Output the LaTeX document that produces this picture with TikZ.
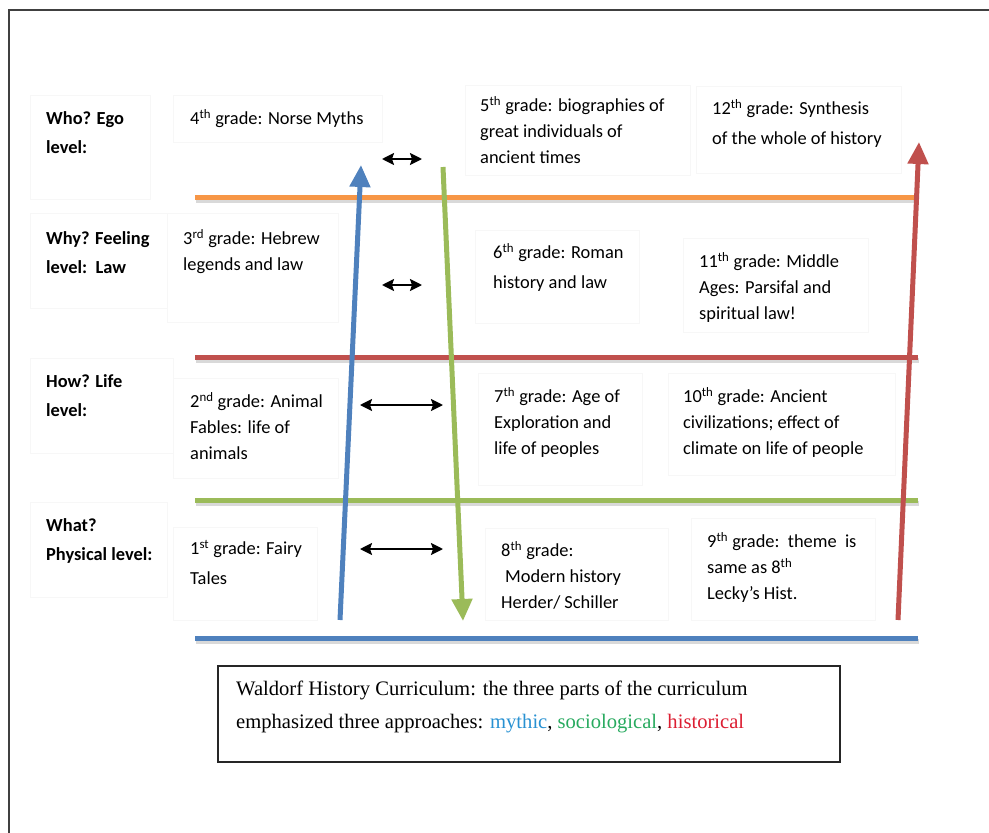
\documentclass[tikz,border=0pt]{standalone}
\usepackage{fontspec}
\setmainfont{Carlito}
\newfontfamily\capfont{Liberation Serif}
\usetikzlibrary{arrows.meta}

\definecolor{bandorange}{RGB}{247,150,70}
\definecolor{bandred}{RGB}{192,80,77}
\definecolor{bandgreen}{RGB}{155,187,89}
\definecolor{bandblue}{RGB}{79,129,189}
\definecolor{mythblue}{RGB}{40,145,210}
\definecolor{sociogreen}{RGB}{40,170,95}
\definecolor{histred}{RGB}{220,30,50}

\begin{document}
\begin{tikzpicture}[x=1pt,y=-1pt,
  lvl/.style={anchor=north west,inner sep=0pt,align=left,font=\fontsize{18.4}{29}\selectfont\bfseries,execute at begin node=\strut},
  grd/.style={anchor=north west,inner sep=0pt,align=left,font=\fontsize{18.4}{26}\selectfont,execute at begin node=\strut},
  wide/.style={font=\fontsize{18.4}{30}\selectfont},
  card/.style={draw=black!3,line width=0.6pt},
  band/.style={line width=5pt},
  flow/.style={line width=5pt,-{Triangle[width=20pt,length=22pt]}},
  link/.style={{Stealth[length=12pt,width=12pt,inset=2pt]}-{Stealth[length=12pt,width=12pt,inset=2pt]},line width=2pt}]
  \useasboundingbox (0,0) rectangle (989,833);
  % page edge
  \draw[black!75,line width=1.2pt] (989,10) -- (9,10) -- (9,833);

  % faint text boxes
  \draw[card] (30,95) rectangle (150,199);
  \draw[card] (30,213) rectangle (167,308);
  \draw[card] (30,358) rectangle (173,453);
  \draw[card] (30,502) rectangle (167,597);
  \draw[card] (173,95) rectangle (382,142);
  \draw[card] (167,213) rectangle (338,322);
  \draw[card] (173,378) rectangle (338,478);
  \draw[card] (173,527) rectangle (317,620);
  \draw[card] (465,85) rectangle (690,175);
  \draw[card] (696,86) rectangle (901,173);
  \draw[card] (475,230) rectangle (639,323);
  \draw[card] (683,238) rectangle (868,332);
  \draw[card] (478,373) rectangle (642,485);
  \draw[card] (668,373) rectangle (895,475);
  \draw[card] (485,528) rectangle (668,620);
  \draw[card] (691,518) rectangle (875,620);

  % level bands
  \draw[band,black!15] (196,200) -- (915,200);
  \draw[band,bandorange] (195,197) -- (914,197);
  \draw[band,black!15] (196,360) -- (919,360);
  \draw[band,bandred] (195,357) -- (918,357);
  \draw[band,black!15] (196,503) -- (919,503);
  \draw[band,bandgreen] (195,500) -- (918,500);
  \draw[band,black!15] (196,641) -- (919,641);
  \draw[band,bandblue] (195,638) -- (918,638);

  % level labels
  \node[lvl] (who) at (46,111) {Who? Ego\\level:};
  \node[lvl] (why) at (46,231) {Why? Feeling\\level:\ \ Law};
  \node[lvl] (how) at (46,374) {How? Life\\level:};
  \node[lvl] (what) at (46,518) {What?\\Physical level:};

  % grades
  \node[grd] (g4) at (190,106) {4\textsuperscript{th} grade: Norse Myths};
  \node[grd] (g3) at (183,229) {3\textsuperscript{rd} grade: Hebrew\\legends and law};
  \node[grd] (g2) at (190,392) {2\textsuperscript{nd} grade: Animal\\Fables: life of\\animals};
  \node[grd,wide] (g1) at (190,540) {1\textsuperscript{st} grade: Fairy\\Tales};
  \node[grd] (g5) at (480,96) {5\textsuperscript{th} grade: biographies of\\great individuals of\\ancient times};
  \node[grd,wide] (g6) at (493,243) {6\textsuperscript{th} grade: Roman\\history and law};
  \node[grd] (g7) at (494,387) {7\textsuperscript{th} grade: Age of\\Exploration and\\life of peoples};
  \node[grd] (g8) at (501,541) {8\textsuperscript{th} grade:\\\hspace*{4pt}Modern history\\Herder/ Schiller};
  \node[grd,wide] (g12) at (712,99) {12\textsuperscript{th} grade: Synthesis\\of the whole of history};
  \node[grd] (g11) at (699,252) {11\textsuperscript{th} grade: Middle\\Ages: Parsifal and\\spiritual law!};
  \node[grd] (g10) at (683,387) {10\textsuperscript{th} grade: Ancient\\civilizations; effect of\\climate on life of people};
  \node[grd] (g9) at (707,532) {9\textsuperscript{th} grade:\ \ theme\ \ is\\same as 8\textsuperscript{th}\\Lecky's Hist.};

  % the three currents
  \coordinate (myth0) at (340,620);
  \coordinate (myth1) at (361,165);
  \coordinate (socio0) at (443,167);
  \coordinate (socio1) at (463,621);
  \coordinate (hist0) at (898,620);
  \coordinate (hist1) at (919,142);
  \draw[flow,bandblue] (myth0) -- (myth1);
  \draw[flow,bandgreen] (socio0) -- (socio1);
  \draw[flow,bandred] (hist0) -- (hist1);

  % links between grades
  \coordinate (l4a) at (382,159); \coordinate (l4b) at (422,159);
  \coordinate (l3a) at (382,285); \coordinate (l3b) at (422,285);
  \coordinate (l2a) at (360,405); \coordinate (l2b) at (443,405);
  \coordinate (l1a) at (360,549); \coordinate (l1b) at (443,549);
  \draw[link] (l4a) -- (l4b);
  \draw[link] (l3a) -- (l3b);
  \draw[link] (l2a) -- (l2b);
  \draw[link] (l1a) -- (l1b);

  % caption
  \draw[black!85,line width=1.8pt] (218,666) rectangle (840,762);
  \node[anchor=north west,inner sep=0pt,align=left,font=\capfont\fontsize{20.6}{33}\selectfont,execute at begin node=\strut] (note) at (236,681)
    {Waldorf History Curriculum: the three parts of the curriculum\\emphasized three approaches: \textcolor{mythblue}{mythic}, \textcolor{sociogreen}{sociological}, \textcolor{histred}{historical}};
\end{tikzpicture}
\end{document}
